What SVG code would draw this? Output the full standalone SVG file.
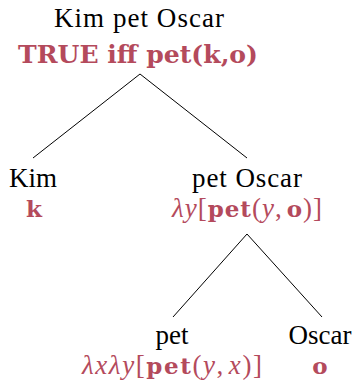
<svg xmlns="http://www.w3.org/2000/svg" width="355" height="382" viewBox="0 0 355 382">
<style>
.w{font-family:"Liberation Serif","Times New Roman",serif;font-size:27px;fill:#000;text-anchor:middle}
.m{font-family:"Liberation Serif","Times New Roman",serif;font-size:27px;fill:#b44a5c;text-anchor:middle}
.b{font-family:"DejaVu Serif",serif;font-weight:bold;font-size:23px}
.i{font-style:italic}
.e{stroke:#000;stroke-width:1;fill:none}
</style>
<rect width="355" height="382" fill="#fff"/>
<g id="connectors">
<line class="e" x1="140" y1="74" x2="33" y2="158"/>
<line class="e" x1="140" y1="74" x2="247" y2="158"/>
<line class="e" x1="247" y1="234" x2="173" y2="317"/>
<line class="e" x1="247" y1="234" x2="322" y2="317"/>
</g>
<g id="root">
<text class="w" x="139" y="27" textLength="170" lengthAdjust="spacing">Kim pet Oscar</text>
<text class="m b" x="138" y="63" style="font-size:25px" textLength="240" lengthAdjust="spacingAndGlyphs">TRUE iff pet(k,o)</text>
</g>
<g id="kim">
<text class="w" x="33" y="187">Kim</text>
<text class="m b" x="34" y="217">k</text>
</g>
<g id="petoscar">
<text class="w" x="247" y="187" textLength="110" lengthAdjust="spacing">pet Oscar</text>
<text class="m" x="247" y="217" textLength="150" lengthAdjust="spacing"><tspan class="i">λy</tspan>[<tspan class="b">pet</tspan>(<tspan class="i">y</tspan>,<tspan class="b" dx="4">o</tspan>)]</text>
</g>
<g id="pet">
<text class="w" x="172" y="344">pet</text>
<text class="m" x="172" y="374" textLength="180" lengthAdjust="spacing"><tspan class="i">λxλy</tspan>[<tspan class="b">pet</tspan>(<tspan class="i">y</tspan>,<tspan class="i" dx="4">x</tspan>)]</text>
</g>
<g id="oscar">
<text class="w" x="320" y="344">Oscar</text>
<text class="m b" x="320" y="374">o</text>
</g>
</svg>
